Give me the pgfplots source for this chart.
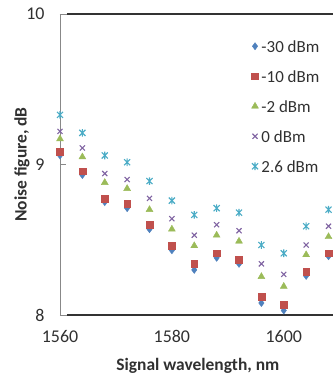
\documentclass[border=0pt]{standalone}
\usepackage{pgfplots}
\usepackage{pgfplotstable}
\pgfplotsset{compat=1.18}
\usepackage{fontspec}
\setmainfont{Carlito}
\definecolor{cA}{HTML}{4F81BD}
\definecolor{cB}{HTML}{C0504D}
\definecolor{cC}{HTML}{9BBB59}
\definecolor{cD}{HTML}{8064A2}
\definecolor{cE}{HTML}{4BACC6}
\definecolor{axgray}{HTML}{888888}
\definecolor{txt}{HTML}{303030}
\pgfdeclareplotmark{xstar}{%
  \pgfpathmoveto{\pgfqpoint{-0.8\pgfplotmarksize}{-0.8\pgfplotmarksize}}%
  \pgfpathlineto{\pgfqpoint{0.8\pgfplotmarksize}{0.8\pgfplotmarksize}}%
  \pgfpathmoveto{\pgfqpoint{-0.8\pgfplotmarksize}{0.8\pgfplotmarksize}}%
  \pgfpathlineto{\pgfqpoint{0.8\pgfplotmarksize}{-0.8\pgfplotmarksize}}%
  \pgfpathmoveto{\pgfqpoint{0pt}{-\pgfplotmarksize}}%
  \pgfpathlineto{\pgfqpoint{0pt}{\pgfplotmarksize}}%
  \pgfusepathqstroke}
\pgfplotstableread{
x     m30   m10    m2     z      p26
1560  9.06  9.085  9.17   9.22   9.33
1564  8.93  8.955  9.05   9.11   9.21
1568  8.75  8.775  8.88   8.94   9.06
1572  8.71  8.74   8.84   8.90   9.015
1576  8.57  8.60   8.70   8.775  8.89
1580  8.43  8.46   8.57   8.64   8.76
1584  8.30  8.34   8.46   8.53   8.665
1588  8.38  8.41   8.53   8.60   8.71
1592  8.34  8.37   8.49   8.56   8.68
1596  8.08  8.12   8.255  8.34   8.465
1600  8.03  8.07   8.19   8.27   8.41
1604  8.26  8.29   8.40   8.465  8.59
1608  8.39  8.41   8.52   8.59   8.70
}\data
\begin{document}
\begin{tikzpicture}
\path[use as bounding box] (0bp,0bp) rectangle (333bp,381bp);
\begin{axis}[
  at={(60bp,66bp)}, anchor=south west,
  scale only axis, width=273bp, height=301bp,
  xmin=1560, xmax=1608.8, ymin=8, ymax=10,
  clip=false,
  axis line style={draw=none},
  xtick={1560,1580,1600}, ytick={8,9,10},
  ytick pos=left,
  x tick label style={/pgf/number format/1000 sep={}},
  /pgf/number format/assume math mode=true,
  tick align=inside,
  x tick style={draw=none},
  y tick style={axgray, line width=0.8bp},
  major tick length=6bp,
  ticklabel style={font=\fontsize{18}{20}\selectfont, text=txt},
  xticklabel style={yshift=-12bp},
  yticklabel style={xshift=-12bp},
  xlabel={Signal wavelength, nm},
  ylabel={Noise figure, dB},
  label style={font=\fontsize{17.5}{20}\selectfont\bfseries, text=txt},
  xlabel style={at={(axis description cs:0.505,-0.169)}, anchor=center},
  ylabel style={at={(axis description cs:-0.139,0.5)}, anchor=center, rotate=0},
  legend style={draw=none, fill=none, at={(axis description cs:0.69,0.93)}, anchor=north west,
     font=\fontsize{17}{20}\selectfont, text=txt, row sep=12bp,
     nodes={inner sep=3bp, text height=12bp, text depth=0bp}},
  legend cell align=left,
  legend image code/.code={\draw[mark repeat=2,mark phase=2,#1] plot coordinates {(0bp,0bp)(5bp,0bp)(10bp,0bp)};},
]
\addplot[only marks, mark=diamond*, mark size=3.6bp, color=cA] table[x=x,y=m30]{\data};
\addlegendentry{-30 dBm}
\addplot[only marks, mark=square*, mark size=3.4bp, color=cB] table[x=x,y=m10]{\data};
\addlegendentry{-10 dBm}
\addplot[only marks, mark=triangle*, mark size=4bp, color=cC] table[x=x,y=m2]{\data};
\addlegendentry{-2 dBm}
\addplot[only marks, mark=x, mark size=3.6bp, line width=1.1bp, color=cD] table[x=x,y=z]{\data};
\addlegendentry{0 dBm}
\addplot[only marks, mark=xstar, mark size=3.8bp, line width=1.1bp, color=cE] table[x=x,y=p26]{\data};
\addlegendentry{2.6 dBm}
\draw[axgray, line width=0.8bp] (rel axis cs:0,1) -- (rel axis cs:0,0) -- (rel axis cs:0.0256,0);
\draw[axgray, line width=0.8bp] (rel axis cs:0,1) -- (rel axis cs:0.0256,1);
\draw[black!80, line width=1.4bp] (rel axis cs:0.0256,0) -- (rel axis cs:1.01,0);
\draw[black!80, line width=1.4bp] (rel axis cs:0.0256,1) -- (rel axis cs:1.01,1);
\end{axis}
\end{tikzpicture}
\end{document}
